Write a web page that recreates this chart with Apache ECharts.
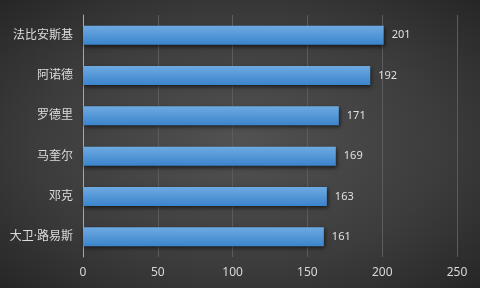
<!DOCTYPE html>
<html><head><meta charset="utf-8">
<script src="https://cdn.jsdelivr.net/npm/echarts@6/dist/echarts.min.js"></script>
<style>html,body{margin:0;padding:0;}#c{width:480px;height:288px;background:radial-gradient(ellipse at 50% 50%,#525252 0%,#3c3c3c 60%,#262626 100%);}</style>
</head><body><div id="c"></div>
<script>
const categories = ['大卫·路易斯','邓克','马奎尔','罗德里','阿诺德','法比安斯基'];
const values = [161,163,169,171,192,201];
const xTicks = {min:0,max:250,interval:50};
const chart = echarts.init(document.getElementById('c'));
chart.setOption({
  backgroundColor:'transparent',
  textStyle:{fontFamily:'"Noto Sans","Noto Sans CJK SC",sans-serif'},
  grid:{left:83,right:23,top:15,bottom:31,containLabel:false},
  xAxis:{type:'value',min:xTicks.min,max:xTicks.max,interval:xTicks.interval,
    axisLine:{show:false},axisTick:{show:false},
    axisLabel:{color:'#d8d8d8',fontSize:12,margin:10},
    splitLine:{lineStyle:{color:'#5c5c5c',width:1}}},
  yAxis:{type:'category',data:categories,
    axisLine:{show:true,lineStyle:{color:'#a8a8a8',width:1}},axisTick:{show:false},
    axisLabel:{color:'#dcdcdc',fontSize:12,margin:10}},
  series:[{type:'bar',data:values,barWidth:19,
    itemStyle:{color:new echarts.graphic.LinearGradient(0,0,0,1,[{offset:0,color:'#6eaae2'},{offset:1,color:'#3b84cc'}]),
      shadowColor:'rgba(0,0,0,0.6)',shadowBlur:4,shadowOffsetY:2,shadowOffsetX:1},
    label:{show:true,position:'right',distance:8,color:'#e0e0e0',fontSize:11}}]
});
</script></body></html>
